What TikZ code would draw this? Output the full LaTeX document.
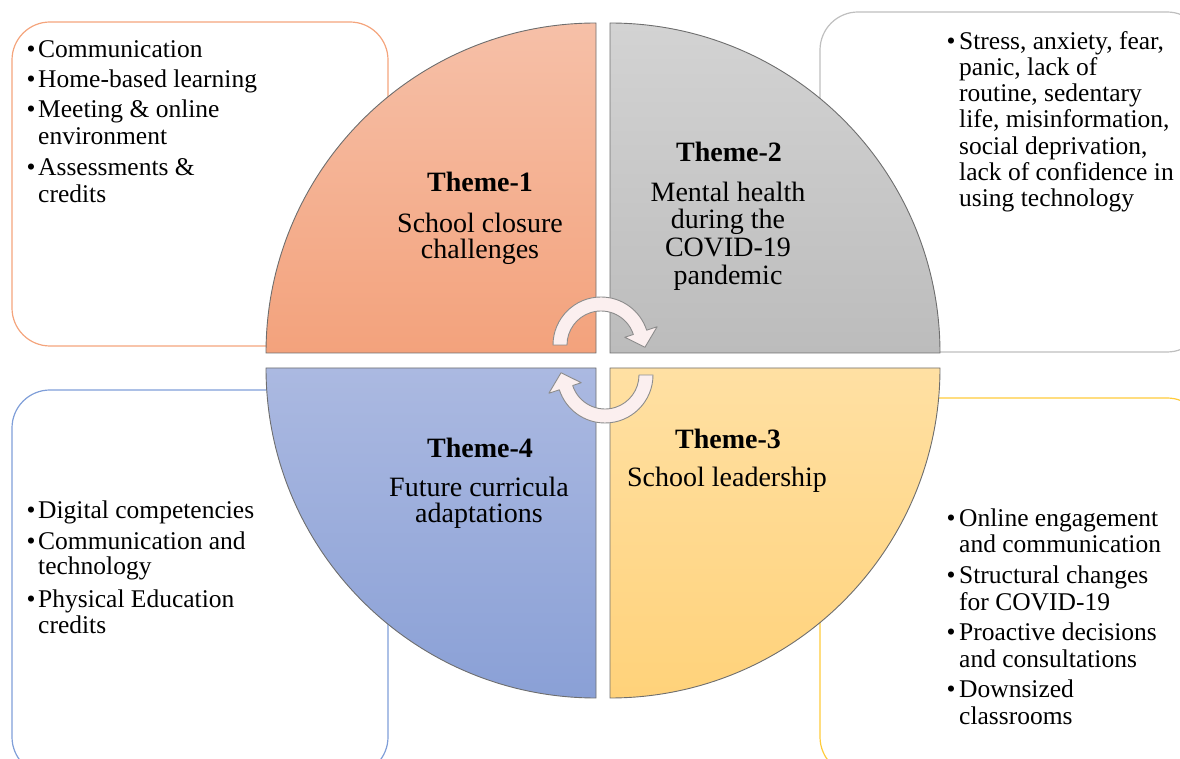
\documentclass[tikz,border=0pt]{standalone}
\usepackage{fontspec}
\setmainfont{Liberation Serif}
\usetikzlibrary{calc}
\definecolor{orTop}{HTML}{F6C0A8}
\definecolor{orBot}{HTML}{F3A27C}
\definecolor{grTop}{HTML}{D3D3D3}
\definecolor{grBot}{HTML}{BCBCBC}
\definecolor{yeTop}{HTML}{FFE0A3}
\definecolor{yeBot}{HTML}{FFD27A}
\definecolor{blTop}{HTML}{ABB9E1}
\definecolor{blBot}{HTML}{8AA0D6}
\definecolor{orLine}{HTML}{F4A47C}
\definecolor{grLine}{HTML}{BFBFBF}
\definecolor{blLine}{HTML}{7F9ED8}
\definecolor{yeLine}{HTML}{FFCB3A}
\definecolor{quadLine}{HTML}{6E6E6E}
\definecolor{arFill}{HTML}{FBEFEF}
\definecolor{arLine}{HTML}{8C8C8C}
\begin{document}
\begin{tikzpicture}[x=1pt,y=1pt,
  boxline/.style={line width=1.2pt, rounded corners=38pt},
  quad/.style={draw=quadLine, line width=0.9pt},
  carrow/.style={fill=arFill, draw=arLine, line width=0.9pt, line join=round},
  txt/.style={anchor=base west, inner sep=0pt, font=\fontsize{25.5}{27}\selectfont},
  bul/.style={anchor=base, inner sep=0pt, font=\fontsize{25.5}{27}\selectfont},
  thb/.style={anchor=base, inner sep=0pt, font=\bfseries\fontsize{28}{30}\selectfont},
  thn/.style={anchor=base, inner sep=0pt, font=\fontsize{28}{30}\selectfont}]
\useasboundingbox (0,0) rectangle (1180,758);
\clip (0,0) rectangle (1180,758);
% background boxes
\draw[boxline, draw=orLine] (12,412) rectangle (388,736);
\draw[boxline, draw=grLine] (820,406) rectangle (1205,746);
\draw[boxline, draw=blLine] (12,-17) rectangle (388,368);
\draw[boxline, draw=yeLine] (820,-17) rectangle (1205,360);
% quadrants
\coordinate (q1) at (596,405);
\coordinate (q2) at (610,405);
\coordinate (q3) at (610,390);
\coordinate (q4) at (596,390);
\draw[quad, top color=orTop, bottom color=orBot] (q1) -- ++(-330,0) arc[start angle=180,end angle=90,radius=330] -- cycle;
\draw[quad, top color=grTop, bottom color=grBot] (q2) -- ++(0,330) arc[start angle=90,end angle=0,radius=330] -- cycle;
\draw[quad, top color=yeTop, bottom color=yeBot] (q3) -- ++(330,0) arc[start angle=0,end angle=-90,radius=330] -- cycle;
\draw[quad, top color=blTop, bottom color=blBot] (q4) -- ++(0,-330) arc[start angle=270,end angle=180,radius=330] -- cycle;
% circular arrows
\coordinate (ca) at (601,413);
\coordinate (cb) at (605,383);
\draw[carrow] ($(ca)+(180:48)$) arc[start angle=180,end angle=18,radius=48] -- ($(ca)+(18:59)$) -- ($(ca)+(-3:44)$) -- ($(ca)+(18:25)$) -- ($(ca)+(18:34)$) arc[start angle=18,end angle=180,radius=34] -- cycle;
\draw[carrow] ($(cb)+(0:48)$) arc[start angle=0,end angle=-162,radius=48] -- ($(cb)+(-162:59)$) -- ($(cb)+(-183:44)$) -- ($(cb)+(-162:25)$) -- ($(cb)+(-162:34)$) arc[start angle=-162,end angle=0,radius=34] -- cycle;
% theme texts
\node[thb] (t1a) at (480,566) {Theme-1};
\node[thn] (t1b) at (480,525) {School closure};
\node[thn] (t1c) at (480,499) {challenges};
\node[thb] (t2a) at (729,596) {Theme-2};
\node[thn] (t2b) at (728,556) {Mental health};
\node[thn] (t2c) at (728,529) {during the};
\node[thn] (t2d) at (728,501) {COVID-19};
\node[thn] (t2e) at (728,473) {pandemic};
\node[thb] (t3a) at (728,309) {Theme-3};
\node[thn] (t3b) at (727,271) {School leadership};
\node[thb] (t4a) at (480,300) {Theme-4};
\node[thn] (t4b) at (479,261) {Future curricula};
\node[thn] (t4c) at (479,235) {adaptations};
% orange box list
\node[bul] (ob1) at (31,700) {\textbullet};
\node[txt] (ol1) at (38,700) {Communication};
\node[bul] (ob2) at (31,670) {\textbullet};
\node[txt] (ol2) at (38,670) {Home-based learning};
\node[bul] (ob3) at (31,640) {\textbullet};
\node[txt] (ol3) at (38,640) {Meeting \& online};
\node[txt] (ol4) at (38,613) {environment};
\node[bul] (ob5) at (31,582) {\textbullet};
\node[txt] (ol5) at (38,582) {Assessments \&};
\node[txt] (ol6) at (38,555) {credits};
% gray box list
\node[bul] (gb1) at (951,708) {\textbullet};
\node[txt] (gl1) at (959,708) {Stress, anxiety, fear,};
\node[txt] (gl2) at (959,682) {panic, lack of};
\node[txt] (gl3) at (959,656) {routine, sedentary};
\node[txt] (gl4) at (959,630) {life, misinformation,};
\node[txt] (gl5) at (959,603) {social deprivation,};
\node[txt] (gl6) at (959,577) {lack of confidence in};
\node[txt] (gl7) at (959,551) {using technology};
% blue box list
\node[bul] (bb1) at (31,239) {\textbullet};
\node[txt] (bl1) at (38,239) {Digital competencies};
\node[bul] (bb2) at (31,208) {\textbullet};
\node[txt] (bl2) at (38,208) {Communication and};
\node[txt] (bl3) at (38,183) {technology};
\node[bul] (bb4) at (31,151) {\textbullet};
\node[txt] (bl4) at (38,151) {Physical Education};
\node[txt] (bl5) at (38,125) {credits};
% yellow box list
\node[bul] (yb1) at (951,231) {\textbullet};
\node[txt] (yl1) at (959,231) {Online engagement};
\node[txt] (yl2) at (959,205) {and communication};
\node[bul] (yb3) at (951,175) {\textbullet};
\node[txt] (yl3) at (959,175) {Structural changes};
\node[txt] (yl4) at (959,148) {for COVID-19};
\node[bul] (yb5) at (951,118) {\textbullet};
\node[txt] (yl5) at (959,118) {Proactive decisions};
\node[txt] (yl6) at (959,91) {and consultations};
\node[bul] (yb7) at (951,61) {\textbullet};
\node[txt] (yl7) at (959,61) {Downsized};
\node[txt] (yl8) at (959,34) {classrooms};
\end{tikzpicture}
\end{document}
